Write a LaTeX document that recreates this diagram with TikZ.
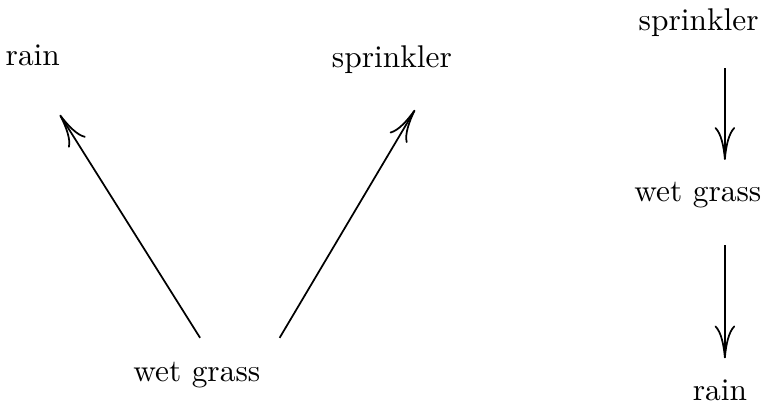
\documentclass[tikz,border=0pt]{standalone}
\usepackage{tikz}
\usetikzlibrary{arrows.meta, positioning, calc}

\tikzset{
    lbl/.style={inner sep=1pt, font=\fontsize{10.9}{13}\selectfont},
    arr/.style={semithick, -{Computer Modern Rightarrow[length=4mm, width=2.5mm]}}
}

\begin{document}
\begin{tikzpicture}
        % Cadre
        \useasboundingbox (0,0) rectangle (9.366,5.0);

        % --- Deux causes, un effet ---
        \node[lbl] (rainL)   at (0.40,4.33) {rain};
        \node[lbl] (sprinkM) at (4.78,4.27) {sprinkler};
        \node[lbl] (wgB)     at (2.40,0.43) {wet grass};

        \draw[arr] ($(wgB.center)+(0.04,0.45)$) -- ($(rainL.center)+(0.33,-0.73)$);
        \draw[arr] ($(wgB.center)+(1.01,0.45)$) -- ($(sprinkM.center)+(0.28,-0.61)$);

        % --- Chaine a droite ---
        \node[lbl] (sprinkR) at (8.52,4.72) {sprinkler};
        \node[lbl] (wgR)     at (8.51,2.62) {wet grass};
        \node[lbl] (rainR)   at (8.78,0.24) {rain};

        \draw[arr] ($(sprinkR.center)+(0.32,-0.55)$) -- ($(wgR.center)+(0.33,0.43)$);
        \draw[arr] ($(wgR.center)+(0.33,-0.61)$) -- ($(rainR.center)+(0.06,0.39)$);
    \end{tikzpicture}
\end{document}
